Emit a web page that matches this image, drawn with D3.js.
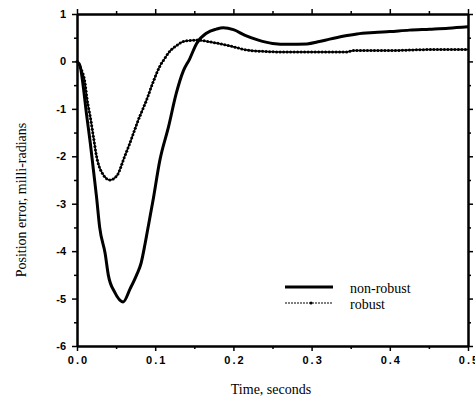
<!DOCTYPE html>
<html>
<head>
<meta charset="utf-8">
<script src="https://cdn.jsdelivr.net/npm/d3@7"></script>
<style>
  body { margin: 0; background: #fff; }
  svg { display: block; }
  .tick-lbl { font-family: "Liberation Sans", Arial, sans-serif; font-weight: bold; font-size: 11px; fill: #000; }
  .title { font-family: "Liberation Serif", "Times New Roman", serif; font-size: 14px; fill: #000; }
</style>
</head>
<body>
<div id="chart"></div>
<script>
// time (s) and position error (milli-radians)
const timeNonRobust = [0, 0.004, 0.008, 0.012, 0.017, 0.021, 0.025, 0.029, 0.036, 0.040, 0.048, 0.059, 0.068, 0.076, 0.082, 0.087, 0.092, 0.097, 0.106, 0.117, 0.127, 0.136, 0.144, 0.153, 0.166, 0.178, 0.187, 0.200, 0.215, 0.230, 0.250, 0.270, 0.294, 0.310, 0.323, 0.340, 0.358, 0.380, 0.400, 0.425, 0.451, 0.475, 0.500];
const nonRobust     = [0, -0.10, -0.53, -1.09, -1.72, -2.29, -2.86, -3.50, -4.05, -4.50, -4.86, -5.07, -4.79, -4.51, -4.25, -3.85, -3.40, -2.95, -2.08, -1.38, -0.67, -0.20, 0.05, 0.38, 0.60, 0.68, 0.71, 0.67, 0.55, 0.46, 0.38, 0.36, 0.37, 0.42, 0.47, 0.53, 0.58, 0.61, 0.63, 0.66, 0.68, 0.70, 0.73];

const timeRobust = [0, 0.004, 0.010, 0.013, 0.017, 0.021, 0.025, 0.034, 0.042, 0.051, 0.061, 0.069, 0.078, 0.089, 0.097, 0.106, 0.112, 0.119, 0.128, 0.136, 0.153, 0.174, 0.200, 0.217, 0.240, 0.260, 0.300, 0.345, 0.353, 0.400, 0.451, 0.500];
const robust     = [0, -0.12, -0.43, -0.81, -1.17, -1.59, -2.00, -2.40, -2.50, -2.41, -2.00, -1.66, -1.25, -0.81, -0.45, -0.10, 0.06, 0.22, 0.34, 0.42, 0.45, 0.40, 0.31, 0.24, 0.21, 0.20, 0.20, 0.20, 0.23, 0.23, 0.25, 0.25];

const xMajor = [0, 0.1, 0.2, 0.3, 0.4, 0.5];
const xMinor = [0.05, 0.15, 0.25, 0.35, 0.45];
const yMajor = [1, 0, -1, -2, -3, -4, -5, -6];
const yMinor = [0.5, -0.5, -1.5, -2.5, -3.5, -4.5, -5.5];

const legendItems = ["non-robust", "robust"];

const W = 475, H = 402;
const svg = d3.select('#chart').append('svg')
  .attr('width', W)
  .attr('height', H);

const x = d3.scaleLinear().domain([0, 0.5]).range([77, 468]);
const y = d3.scaleLinear().domain([-6, 1]).range([346, 14]);

// axes: outward ticks on all four sides
function styleAxis(g) {
  g.select('.domain').attr('stroke', '#000').attr('stroke-width', 2);
  g.selectAll('.tick line').attr('stroke', '#000').attr('stroke-width', 1.5);
}

const bottomMajor = svg.append('g')
  .attr('transform', `translate(0,${y(-6)})`)
  .call(d3.axisBottom(x).tickValues(xMajor).tickSize(5).tickSizeOuter(0).tickFormat(d3.format('.1f')))
  .call(styleAxis);
bottomMajor.selectAll('.tick text')
  .attr('class', 'tick-lbl')
  .attr('y', 10)
  .attr('dy', '0.71em')
  .style('letter-spacing', '2px')
  .attr('dx', 1);
svg.append('g')
  .attr('transform', `translate(0,${y(-6)})`)
  .call(d3.axisBottom(x).tickValues(xMinor).tickSize(3).tickSizeOuter(0).tickFormat(''))
  .call(styleAxis);

svg.append('g')
  .attr('transform', `translate(0,${y(1)})`)
  .call(d3.axisTop(x).tickValues(xMajor).tickSize(5).tickSizeOuter(0).tickFormat(''))
  .call(styleAxis);
svg.append('g')
  .attr('transform', `translate(0,${y(1)})`)
  .call(d3.axisTop(x).tickValues(xMinor).tickSize(3).tickSizeOuter(0).tickFormat(''))
  .call(styleAxis);

const leftMajor = svg.append('g')
  .attr('transform', `translate(${x(0)},0)`)
  .call(d3.axisLeft(y).tickValues(yMajor).tickSize(5).tickSizeOuter(0).tickFormat(d3.format('d')))
  .call(styleAxis);
leftMajor.selectAll('.tick text')
  .attr('class', 'tick-lbl')
  .attr('x', -11)
  .text(d => d < 0 ? '-' + Math.abs(d) : d);
svg.append('g')
  .attr('transform', `translate(${x(0)},0)`)
  .call(d3.axisLeft(y).tickValues(yMinor).tickSize(3).tickSizeOuter(0).tickFormat(''))
  .call(styleAxis);

svg.append('g')
  .attr('transform', `translate(${x(0.5)},0)`)
  .call(d3.axisRight(y).tickValues(yMajor).tickSize(5).tickSizeOuter(0).tickFormat(''))
  .call(styleAxis);
svg.append('g')
  .attr('transform', `translate(${x(0.5)},0)`)
  .call(d3.axisRight(y).tickValues(yMinor).tickSize(3).tickSizeOuter(0).tickFormat(''))
  .call(styleAxis);

// curves
const line = d3.line().curve(d3.curveMonotoneX);

const nrPts = timeNonRobust.map((t, i) => [x(t), y(nonRobust[i])]);
const rPts = timeRobust.map((t, i) => [x(t), y(robust[i])]);

svg.append('path')
  .attr('d', line(nrPts))
  .attr('fill', 'none')
  .attr('stroke', '#000')
  .attr('stroke-width', 3)
  .attr('stroke-linejoin', 'round');

const rPath = svg.append('path')
  .attr('d', line(rPts))
  .attr('fill', 'none')
  .attr('stroke', '#000')
  .attr('stroke-width', 1.4);

// small markers spaced along the robust curve
const node = rPath.node();
const total = node.getTotalLength();
const marks = d3.range(0, total, 3.5).map(l => node.getPointAtLength(l));
svg.append('g').selectAll('circle')
  .data(marks)
  .join('circle')
  .attr('cx', d => d.x)
  .attr('cy', d => d.y)
  .attr('r', 1.5)
  .attr('fill', '#000');

// legend
const legend = svg.append('g');
legendItems.forEach((name, i) => {
  const ly = 287 + i * 16;
  legend.append('line')
    .attr('x1', 285).attr('x2', 333)
    .attr('y1', ly).attr('y2', ly)
    .attr('stroke', '#000')
    .attr('stroke-width', i === 0 ? 3 : 1)
    .attr('stroke-dasharray', i === 0 ? null : '2,1');
  if (i === 1) {
    legend.append('circle').attr('cx', 311).attr('cy', ly).attr('r', 1.5).attr('fill', '#000');
  }
  legend.append('text')
    .attr('class', 'title')
    .attr('x', 350)
    .attr('y', ly + 6)
    .text(name);
});

// axis titles
svg.append('text')
  .attr('class', 'title')
  .attr('x', 271)
  .attr('y', 394)
  .attr('text-anchor', 'middle')
  .text('Time, seconds');

svg.append('text')
  .attr('class', 'title')
  .attr('transform', 'rotate(-90)')
  .attr('x', -200)
  .attr('y', 26)
  .attr('text-anchor', 'middle')
  .text('Position error, milli-radians');
</script>
</body>
</html>
